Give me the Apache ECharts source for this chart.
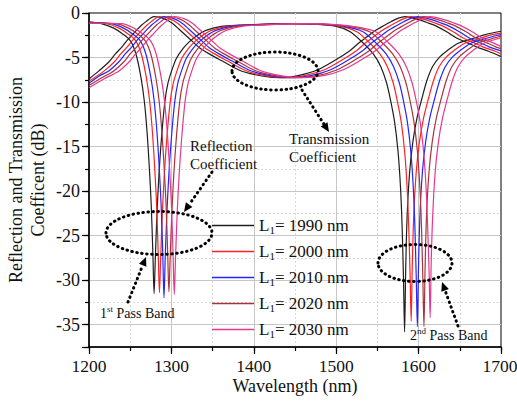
<!DOCTYPE html>
<html>
<head>
<meta charset="utf-8">
<script src="https://cdn.jsdelivr.net/npm/echarts@6.0.0/dist/echarts.min.js"></script>
<style>
  html, body { margin: 0; padding: 0; background: #fff; }
  #chart { width: 517px; height: 405px; }
</style>
</head>
<body>
<div id="chart"></div>
<script>
// Cavity lengths L1 (nm), one reflection and one transmission trace each
const cavityLengths = [1990, 2000, 2010, 2020, 2030];

const xTickLabels = [1200, 1300, 1400, 1500, 1600, 1700];
const yTickLabels = [0, -5, -10, -15, -20, -25, -30, -35];

// Reflection coefficient (dB) vs wavelength (nm)
const refl1990 = [[1200,-1.0],[1215,-1.2],[1230,-1.7],[1240,-2.3],[1250,-3.1],[1257,-4.6],[1263,-7.2],[1267,-9.8],[1270,-12.8],[1273,-17],[1275.5,-21.5],[1277.5,-27],[1279,-31.5],[1280.5,-27.5],[1282.5,-22.5],[1285,-18],[1288,-14],[1292,-10],[1296,-7.8],[1301,-6.3],[1306,-5.1],[1314,-4.0],[1321,-3.3],[1330,-2.6],[1342,-1.95],[1361,-1.5],[1400,-1.3],[1440,-1.2],[1470,-1.25],[1500,-1.5],[1517,-2.1],[1533,-3.4],[1545,-4.6],[1554,-6.0],[1561,-7.8],[1566,-9.8],[1571,-12.3],[1575,-15.5],[1578,-19.5],[1580,-24],[1581.7,-30],[1583,-35.8],[1584.3,-29],[1586,-23],[1589,-18],[1593,-14.5],[1598,-11.8],[1604,-9.6],[1610,-7.6],[1617,-6.0],[1626,-4.9],[1635,-4.2],[1648,-3.4],[1661,-3.0],[1680,-2.45],[1700,-2.05]];
const refl2000 = [[1200,-1.04],[1221.5,-1.2],[1236.5,-1.7],[1246.5,-2.3],[1256.5,-3.1],[1263.5,-4.6],[1269.5,-7.2],[1273.5,-9.8],[1276.5,-12.8],[1279.5,-17],[1282,-21.5],[1284,-27],[1285.5,-31.4],[1287,-27.5],[1289,-22.5],[1291.5,-18],[1294.5,-14],[1298.5,-10],[1302.5,-7.8],[1307.5,-6.3],[1312.5,-5.1],[1320.5,-4.0],[1327.5,-3.3],[1336.5,-2.6],[1348.5,-1.95],[1367.5,-1.5],[1405,-1.3],[1443,-1.2],[1475,-1.25],[1505,-1.5],[1525,-2.1],[1541,-3.4],[1553,-4.6],[1562,-6.0],[1569,-7.8],[1574,-9.8],[1579,-12.3],[1583,-15.5],[1586,-19.5],[1588,-24],[1589.7,-29.5],[1591,-34.6],[1592.3,-28.5],[1594,-23],[1597,-18],[1601,-14.5],[1606,-11.8],[1612,-9.6],[1618,-7.6],[1625,-6.0],[1634,-4.9],[1643,-4.2],[1656,-3.4],[1669,-3.0],[1688,-2.45],[1700,-2.25]];
const refl2010 = [[1200,-1.07],[1227,-1.2],[1242,-1.7],[1252,-2.3],[1262,-3.1],[1269,-4.6],[1275,-7.2],[1279,-9.8],[1282,-12.8],[1285,-17],[1287.5,-21.5],[1289.5,-27],[1291,-32],[1292.5,-27.5],[1294.5,-22.5],[1297,-18],[1300,-14],[1304,-10],[1308,-7.8],[1313,-6.3],[1318,-5.1],[1326,-4.0],[1333,-3.3],[1342,-2.6],[1354,-1.95],[1373,-1.5],[1410,-1.3],[1446,-1.2],[1480,-1.25],[1510,-1.5],[1532.5,-2.1],[1548.5,-3.4],[1560.5,-4.6],[1569.5,-6.0],[1576.5,-7.8],[1581.5,-9.8],[1586.5,-12.3],[1590.5,-15.5],[1593.5,-19.5],[1595.5,-24],[1597.2,-30],[1598.5,-35.2],[1599.8,-29],[1601.5,-23],[1604.5,-18],[1608.5,-14.5],[1613.5,-11.8],[1619.5,-9.6],[1625.5,-7.6],[1632.5,-6.0],[1641.5,-4.9],[1650.5,-4.2],[1663.5,-3.4],[1676.5,-3.0],[1695.5,-2.5],[1700,-2.42]];
const refl2020 = [[1200,-1.1],[1233,-1.2],[1248,-1.7],[1258,-2.3],[1268,-3.1],[1275,-4.6],[1281,-7.2],[1285,-9.8],[1288,-12.8],[1291,-17],[1293.5,-21.5],[1295.5,-27],[1297,-31.3],[1298.5,-27.5],[1300.5,-22.5],[1303,-18],[1306,-14],[1310,-10],[1314,-7.8],[1319,-6.3],[1324,-5.1],[1332,-4.0],[1339,-3.3],[1348,-2.6],[1360,-1.95],[1379,-1.5],[1416,-1.3],[1450,-1.2],[1485,-1.25],[1515,-1.5],[1540.5,-2.1],[1556.5,-3.4],[1568.5,-4.6],[1577.5,-6.0],[1584.5,-7.8],[1589.5,-9.8],[1594.5,-12.3],[1598.5,-15.5],[1601.5,-19.5],[1603.5,-24],[1605.2,-30],[1606.5,-35.2],[1607.8,-29],[1609.5,-23],[1612.5,-18],[1616.5,-14.5],[1621.5,-11.8],[1627.5,-9.6],[1633.5,-7.6],[1640.5,-6.0],[1649.5,-4.9],[1658.5,-4.2],[1671.5,-3.4],[1684.5,-3.0],[1700,-2.6]];
const refl2030 = [[1200,-1.15],[1239.5,-1.2],[1254.5,-1.7],[1264.5,-2.3],[1274.5,-3.1],[1281.5,-4.6],[1287.5,-7.2],[1291.5,-9.8],[1294.5,-12.8],[1297.5,-17],[1300,-21.5],[1302,-27],[1303.5,-31.6],[1305,-27.5],[1307,-22.5],[1309.5,-18],[1312.5,-14],[1316.5,-10],[1320.5,-7.8],[1325.5,-6.3],[1330.5,-5.1],[1338.5,-4.0],[1345.5,-3.3],[1354.5,-2.6],[1366.5,-1.95],[1385.5,-1.5],[1422,-1.3],[1455,-1.2],[1490,-1.25],[1520,-1.5],[1548,-2.1],[1564,-3.4],[1576,-4.6],[1585,-6.0],[1592,-7.8],[1597,-9.8],[1602,-12.3],[1606,-15.5],[1609,-19.5],[1611,-24],[1612.7,-29],[1614,-34.2],[1615.3,-28],[1617,-23],[1620,-18],[1624,-14.5],[1629,-11.8],[1635,-9.6],[1641,-7.6],[1648,-6.0],[1657,-4.9],[1666,-4.2],[1679,-3.4],[1692,-3.0],[1700,-2.8]];

// Transmission coefficient (dB) vs wavelength (nm)
const trans1990 = [[1200,-7.4],[1212,-6.5],[1224,-5.5],[1232,-4.6],[1240,-3.8],[1246,-3.1],[1252,-2.5],[1258,-1.9],[1264,-1.35],[1270,-0.9],[1275,-0.55],[1279,-0.4],[1284,-0.45],[1290,-0.6],[1297,-0.9],[1303,-1.3],[1309,-1.8],[1315,-2.3],[1321,-2.8],[1334,-3.9],[1348,-4.7],[1362,-5.4],[1382,-6.4],[1400,-6.9],[1420,-7.2],[1435,-7.25],[1455,-7.0],[1477,-6.4],[1497,-5.4],[1517,-4.2],[1527,-3.4],[1537,-2.7],[1547,-2.0],[1557,-1.45],[1567,-0.95],[1575,-0.6],[1583,-0.4],[1590,-0.5],[1600,-0.75],[1611,-1.1],[1622,-1.5],[1634,-2.1],[1646,-2.8],[1658,-3.3],[1670,-3.8],[1685,-4.3],[1700,-4.9]];
const trans2000 = [[1200,-7.65],[1218.5,-6.5],[1230.5,-5.5],[1238.5,-4.6],[1246.5,-3.8],[1252.5,-3.1],[1258.5,-2.5],[1264.5,-1.9],[1270.5,-1.35],[1276.5,-0.9],[1281.5,-0.55],[1285.5,-0.4],[1290.5,-0.45],[1296.5,-0.6],[1303.5,-0.9],[1309.5,-1.3],[1315.5,-1.8],[1321.5,-2.3],[1327.5,-2.8],[1340.5,-3.9],[1354.5,-4.7],[1368.5,-5.4],[1388.5,-6.4],[1406,-6.9],[1426,-7.2],[1441,-7.25],[1463,-7.0],[1485,-6.4],[1505,-5.4],[1525,-4.2],[1535,-3.4],[1545,-2.7],[1555,-2.0],[1565,-1.45],[1575,-0.95],[1583,-0.6],[1591,-0.4],[1598,-0.5],[1608,-0.75],[1619,-1.1],[1630,-1.5],[1642,-2.1],[1654,-2.8],[1666,-3.3],[1678,-3.8],[1693,-4.3],[1700,-4.6]];
const trans2010 = [[1200,-7.9],[1212,-7.1],[1224,-6.5],[1236,-5.5],[1244,-4.6],[1252,-3.8],[1258,-3.1],[1264,-2.5],[1270,-1.9],[1276,-1.35],[1282,-0.9],[1287,-0.55],[1291,-0.4],[1296,-0.45],[1302,-0.6],[1309,-0.9],[1315,-1.3],[1321,-1.8],[1327,-2.3],[1333,-2.8],[1346,-3.9],[1360,-4.7],[1374,-5.4],[1394,-6.4],[1412,-6.9],[1432,-7.2],[1447,-7.25],[1470.5,-7.0],[1492.5,-6.4],[1512.5,-5.4],[1532.5,-4.2],[1542.5,-3.4],[1552.5,-2.7],[1562.5,-2.0],[1572.5,-1.45],[1582.5,-0.95],[1590.5,-0.6],[1598.5,-0.4],[1605.5,-0.5],[1615.5,-0.75],[1626.5,-1.1],[1637.5,-1.5],[1649.5,-2.1],[1661.5,-2.8],[1673.5,-3.3],[1685.5,-3.8],[1700,-4.25]];
const trans2020 = [[1200,-8.15],[1215,-7.3],[1230,-6.5],[1242,-5.5],[1250,-4.6],[1258,-3.8],[1264,-3.1],[1270,-2.5],[1276,-1.9],[1282,-1.35],[1288,-0.9],[1293,-0.55],[1297,-0.4],[1302,-0.45],[1308,-0.6],[1315,-0.9],[1321,-1.3],[1327,-1.8],[1333,-2.3],[1339,-2.8],[1352,-3.9],[1366,-4.7],[1380,-5.4],[1400,-6.4],[1418,-6.9],[1438,-7.2],[1453,-7.25],[1478.5,-7.0],[1500.5,-6.4],[1520.5,-5.4],[1540.5,-4.2],[1550.5,-3.4],[1560.5,-2.7],[1570.5,-2.0],[1580.5,-1.45],[1590.5,-0.95],[1598.5,-0.6],[1606.5,-0.4],[1613.5,-0.5],[1623.5,-0.75],[1634.5,-1.1],[1645.5,-1.5],[1657.5,-2.1],[1669.5,-2.8],[1681.5,-3.3],[1693.5,-3.8],[1700,-4.0]];
const trans2030 = [[1200,-8.4],[1218,-7.4],[1236.5,-6.5],[1248.5,-5.5],[1256.5,-4.6],[1264.5,-3.8],[1270.5,-3.1],[1276.5,-2.5],[1282.5,-1.9],[1288.5,-1.35],[1294.5,-0.9],[1299.5,-0.55],[1303.5,-0.4],[1308.5,-0.45],[1314.5,-0.6],[1321.5,-0.9],[1327.5,-1.3],[1333.5,-1.8],[1339.5,-2.3],[1345.5,-2.8],[1358.5,-3.9],[1372.5,-4.7],[1386.5,-5.4],[1406.5,-6.4],[1424.5,-6.9],[1444.5,-7.2],[1459.5,-7.25],[1486,-7.0],[1508,-6.4],[1528,-5.4],[1548,-4.2],[1558,-3.4],[1568,-2.7],[1578,-2.0],[1588,-1.45],[1598,-0.95],[1606,-0.6],[1614,-0.4],[1621,-0.5],[1631,-0.75],[1642,-1.1],[1653,-1.5],[1665,-2.1],[1677,-2.8],[1689,-3.3],[1700,-3.75]];

const reflection = [refl1990, refl2000, refl2010, refl2020, refl2030];
const transmission = [trans1990, trans2000, trans2010, trans2020, trans2030];
const traceColors = ['#1e1e1e', '#ff2222', '#2424ff', '#a8343a', '#e8378e'];

const serif = 'Liberation Serif';
const seriesNames = cavityLengths.map(len => 'L1= ' + len + ' nm');

const series = [];
cavityLengths.forEach((len, i) => {
  [reflection[i], transmission[i]].forEach(data => {
    series.push({
      type: 'line',
      name: seriesNames[i],
      data: data,
      xAxisIndex: 0,
      yAxisIndex: 0,
      symbol: 'none',
      showSymbol: false,
      smooth: 0.3,
      z: 3,
      lineStyle: { color: traceColors[i], width: 1.2 },
      itemStyle: { color: traceColors[i] },
      emphasis: { disabled: true }
    });
  });
});

// Dotted annotation helpers
const dotStyle = { fill: 'none', stroke: '#000', lineWidth: 3, lineDash: [0.5, 4.5], lineCap: 'round' };

function dottedEllipse(cx, cy, rx, ry) {
  return { type: 'ellipse', silent: true, z: 10, shape: { cx, cy, rx, ry }, style: dotStyle };
}

function dottedArrow(x1, y1, x2, y2) {
  const dx = x2 - x1, dy = y2 - y1, d = Math.hypot(dx, dy);
  const ux = dx / d, uy = dy / d;
  const headLen = 9, headHalf = 4;
  const bx = x2 - ux * headLen, by = y2 - uy * headLen;
  return [
    { type: 'line', silent: true, z: 10, shape: { x1, y1, x2: bx, y2: by }, style: dotStyle },
    { type: 'polygon', silent: true, z: 10,
      shape: { points: [[x2, y2], [bx - uy * headHalf, by + ux * headHalf], [bx + uy * headHalf, by - ux * headHalf]] },
      style: { fill: '#000' } }
  ];
}

function note(x, y, text, size, rich, align, vAlign) {
  return { type: 'text', silent: true, z: 10, x, y,
    style: { text, fill: '#111', fontFamily: serif, fontSize: size,
             align: align || 'left', verticalAlign: vAlign || 'middle', rich: rich } };
}

const bandRich = {
  n: { fontFamily: serif, fontSize: 14, fill: '#111', lineHeight: 18, verticalAlign: 'middle' },
  sup: { fontFamily: serif, fontSize: 9, fill: '#111', lineHeight: 9, verticalAlign: 'top' }
};

const annotations = [
  dottedEllipse(275, 71, 43, 19),
  ...dottedArrow(302, 90, 329, 132),
  note(289, 139, 'Transmission', 15),
  note(289, 157, 'Coefficient', 15),
  note(190, 146, 'Reflection', 15),
  note(190, 164, 'Coefficient', 15),
  ...dottedArrow(212, 172, 184, 212),
  dottedEllipse(159, 233, 53, 21.5),
  ...dottedArrow(128, 302, 146, 257),
  note(100, 313, '{n|1}{sup|st}{n| Pass Band}', 14, bandRich),
  dottedEllipse(415, 263, 37, 18.5),
  ...dottedArrow(458, 326, 442, 282),
  note(410, 335, '{n|2}{sup|nd}{n| Pass Band}', 14, bandRich)
];

const chart = echarts.init(document.getElementById('chart'), null, { renderer: 'svg' });

chart.setOption({
  animation: false,
  backgroundColor: '#fff',
  textStyle: { fontFamily: serif },
  grid: { left: 89, right: 16, top: 13, bottom: 58, outerBoundsMode: 'none', containLabel: false,
          show: true, borderColor: '#000', borderWidth: 1, backgroundColor: 'transparent' },
  legend: {
    data: seriesNames,
    orient: 'vertical',
    left: 207,
    top: 212,
    icon: 'rect',
    itemWidth: 42,
    itemHeight: 1.5,
    itemGap: 7.5,
    selectedMode: false,
    formatter: name => '{l|L}{s|1}{l|' + name.slice(2) + '}',
    textStyle: {
      fontFamily: serif,
      rich: {
        l: { fontFamily: serif, fontSize: 17, color: '#111', lineHeight: 20, verticalAlign: 'middle' },
        s: { fontFamily: serif, fontSize: 11, color: '#111', lineHeight: 10, verticalAlign: 'bottom' }
      }
    }
  },
  xAxis: [
    {
      type: 'value', min: 1200, max: 1700, interval: 50, position: 'bottom',
      axisLine: { show: true, onZero: false, lineStyle: { color: '#000', width: 1.5 } },
      axisTick: { show: true, length: 4, lineStyle: { color: '#000', width: 1.2 } },
      axisLabel: { show: false },
      splitLine: { show: true, showMinLine: false, showMaxLine: false, lineStyle: { color: '#d8d8d8', width: 1, type: [2, 2] } },
      name: 'Wavelength (nm)', nameLocation: 'middle', nameGap: 30,
      nameTextStyle: { fontFamily: serif, fontSize: 18, color: '#111' }
    },
    {
      type: 'value', min: 1200, max: 1700, interval: 100, position: 'bottom',
      axisLine: { show: false, onZero: false },
      axisTick: { show: true, length: 7, lineStyle: { color: '#000', width: 1.2 } },
      axisLabel: { show: false },
      splitLine: { show: true, showMinLine: false, showMaxLine: false, lineStyle: { color: '#c6c6c6', width: 1 } }
    }
  ],
  yAxis: [
    {
      type: 'value', min: -37.5, max: 0, interval: 2.5, position: 'left',
      axisLine: { show: true, onZero: false, lineStyle: { color: '#000', width: 1.5 } },
      axisTick: { show: true, length: 4, lineStyle: { color: '#000', width: 1.2 } },
      axisLabel: { show: false },
      splitLine: { show: true, showMinLine: false, showMaxLine: false, lineStyle: { color: '#d8d8d8', width: 1, type: [2, 2] } },
      name: 'Reflection and Transmission\nCoefficent (dB)', nameLocation: 'middle', nameGap: 40, nameRotate: 90,
      nameTextStyle: { fontFamily: serif, fontSize: 18, color: '#111', lineHeight: 22 }
    },
    {
      // major ticks / solid grid every 5 dB (0 at top, 37.5 at bottom)
      type: 'value', min: 0, max: 37.5, interval: 5, inverse: true, position: 'left',
      axisLine: { show: false, onZero: false },
      axisTick: { show: true, length: 7, lineStyle: { color: '#000', width: 1.2 } },
      axisLabel: { show: false },
      splitLine: { show: true, showMinLine: false, showMaxLine: false, lineStyle: { color: '#c6c6c6', width: 1 } }
    }
  ],
  series: series
});

// Tick labels in the serif face, placed through the axes' own scales
const gridRect = chart.getModel().getComponent('grid', 0).coordinateSystem.getRect();
const axisBottom = gridRect.y + gridRect.height;
const tickTexts = [];
xTickLabels.forEach(v => {
  const px = chart.convertToPixel({ xAxisIndex: 0 }, v);
  tickTexts.push(note(Math.min(px, 500), axisBottom + 10, String(v), 17.5, null, 'center', 'top'));
});
yTickLabels.forEach(v => {
  const py = chart.convertToPixel({ yAxisIndex: 0 }, v);
  tickTexts.push(note(gridRect.x - 9, py, String(v), 18, null, 'right', 'middle'));
});

chart.setOption({ graphic: annotations.concat(tickTexts) });
</script>
</body>
</html>
